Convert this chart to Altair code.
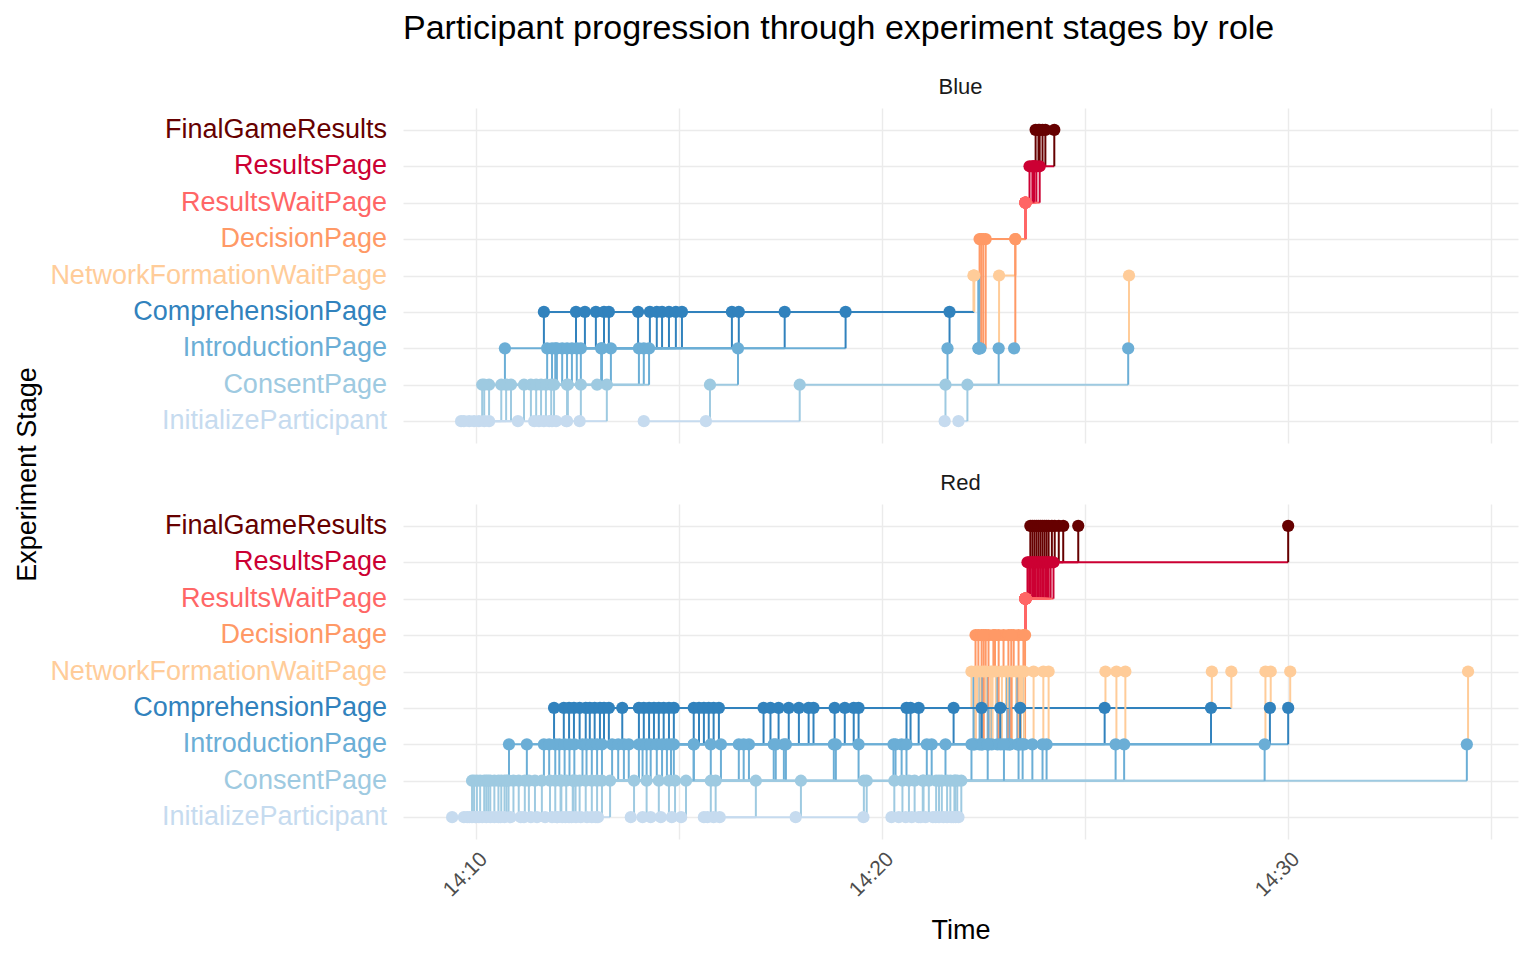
import altair as alt
import pandas as pd

# ---------------- data ----------------
stages = ["InitializeParticipant", "ConsentPage", "IntroductionPage", "ComprehensionPage",
          "NetworkFormationWaitPage", "DecisionPage", "ResultsWaitPage", "ResultsPage",
          "FinalGameResults"]
stage_colors = ["#C6DBEF", "#9ECAE1", "#6BAED6", "#3182BD",
                "#FFCC99", "#FF9966", "#FF6666", "#CC0033", "#660000"]

# time values are minutes after 14:00; stage sequence as digits (index into stages)
blue_paths = [
    ("0123425678", [9.70, 10.15, 10.71, 11.67, 22.25, 22.37, 22.40, 23.53, 23.63, 23.78]),
    ("0123425678", [9.83, 10.32, 11.75, 12.46, 22.26, 22.38, 22.44, 23.53, 23.70, 23.85]),
    ("0123425678", [21.54, 21.56, 21.61, 21.66, 22.27, 22.39, 22.49, 23.53, 23.75, 23.88]),
    ("01245678", [21.88, 22.10, 22.87, 22.88, 23.28, 23.53, 23.80, 24.02]),
    ("25678", [23.25, 23.28, 23.53, 23.88, 24.24]),
    ("25678", [22.42, 22.55, 23.53, 23.73, 23.95]),
    ("0124", [15.66, 17.97, 26.06, 26.08]),
    ("0123", [10.07, 10.62, 11.99, 12.68]),
    ("0123", [10.20, 10.74, 12.12, 12.95]),
    ("0123", [10.32, 10.86, 12.24, 13.15]),
    ("0123", [11.03, 11.18, 12.36, 13.27]),
    ("0123", [9.63, 11.35, 12.48, 13.99]),
    ("0123", [11.43, 11.48, 12.58, 14.28]),
    ("0123", [11.55, 11.60, 13.08, 14.45]),
    ("0123", [11.67, 11.72, 13.32, 14.58]),
    ("0123", [11.80, 11.85, 11.87, 14.75]),
    ("0123", [11.87, 11.92, 11.95, 14.92]),
    ("0123", [12.22, 12.26, 13.10, 15.07]),
    ("0123", [12.24, 12.58, 14.01, 16.30]),
    ("123", [12.98, 14.13, 17.60]),
    ("0123", [12.55, 13.22, 14.26, 19.10]),
    ("0123", [14.13, 15.76, 16.45, 16.47]),
    ("01", [11.97, 12.24]),
    ("01", [9.95, 10.20]),
]

red_paths = [
    ("0123425678", [9.41, 9.90, 10.81, 11.92, 22.20, 22.25, 22.30, 23.53, 23.58, 23.65]),
    ("0123245678", [9.70, 9.95, 11.25, 12.16, 22.28, 22.30, 22.37, 23.53, 23.62, 23.70]),
    ("01234", [9.78, 10.02, 11.67, 12.29, 28.60]),
    ("0123425678", [9.83, 10.10, 11.95, 12.41, 22.35, 22.40, 22.45, 23.53, 23.66, 23.75]),
    ("0123", [9.90, 10.20, 12.05, 12.70]),
    ("0123245678", [9.98, 10.25, 12.18, 12.80, 22.45, 22.50, 22.55, 23.53, 23.70, 23.80]),
    ("0123", [10.07, 10.35, 12.30, 12.92]),
    ("0123425678", [10.15, 10.45, 12.42, 13.05, 22.55, 22.60, 22.62, 23.53, 23.74, 23.85]),
    ("0123", [10.25, 10.55, 12.62, 13.15]),
    ("0123", [10.35, 10.62, 12.72, 13.27]),
    ("0123245678", [10.45, 10.70, 12.85, 13.60, 22.62, 22.68, 22.74, 23.53, 23.78, 23.90]),
    ("0123", [10.55, 10.80, 12.98, 14.01]),
    ("0123", [10.70, 10.92, 13.10, 14.13]),
    ("0123425678", [10.85, 11.05, 13.35, 14.26, 22.80, 22.84, 22.87, 23.53, 23.82, 23.95]),
    ("0123", [11.18, 11.30, 13.50, 14.38]),
    ("0123", [11.35, 11.45, 13.64, 14.50]),
    ("0123245678", [11.50, 11.62, 13.76, 14.62, 22.92, 22.95, 22.99, 23.53, 23.86, 24.00]),
    ("0123", [11.70, 11.82, 14.01, 14.75]),
    ("0123", [11.87, 11.95, 14.10, 14.87]),
    ("0123425678", [11.99, 12.08, 14.20, 15.36, 23.05, 23.08, 23.11, 23.53, 23.90, 24.05]),
    ("0123", [12.12, 12.22, 14.30, 15.49]),
    ("0123", [12.29, 12.38, 14.45, 15.61]),
    ("0123245678", [12.46, 12.55, 14.58, 15.73, 23.15, 23.20, 23.24, 23.53, 23.94, 24.10]),
    ("0123", [12.58, 12.70, 14.70, 15.85]),
    ("0123", [12.73, 12.85, 14.87, 15.98]),
    ("0123425678", [12.85, 12.98, 15.36, 17.08, 23.30, 23.33, 23.36, 23.53, 23.98, 24.18]),
    ("0123", [12.95, 13.10, 15.78, 17.25]),
    ("0123", [13.81, 13.89, 16.47, 17.45]),
    ("0123245678", [14.30, 14.50, 16.72, 17.70, 23.40, 23.42, 23.48, 23.53, 24.02, 24.25]),
    ("0123", [14.55, 14.75, 17.33, 17.95]),
    ("0123", [14.82, 14.90, 17.58, 18.19]),
    ("0123425678", [15.61, 15.78, 16.03, 18.31, 23.45, 23.50, 23.52, 23.53, 24.06, 24.35]),
    ("0123", [15.85, 16.89, 18.81, 19.08]),
    ("0123425678", [15.70, 15.90, 16.59, 18.83, 22.42, 22.47, 22.50, 23.53, 24.10, 24.46]),
    ("0123245678", [17.87, 18.00, 19.42, 20.60, 22.70, 22.72, 22.78, 23.53, 24.15, 24.83]),
    ("0123425678", [19.54, 19.62, 20.28, 20.90, 23.10, 23.14, 23.18, 23.53, 24.22, 30.00]),
    ("01234", [14.10, 14.20, 14.80, 30.00, 30.05]),
    ("0124", [12.20, 12.40, 34.40, 34.43]),
    ("012", [11.10, 11.20, 17.38]),
    ("0123", [12.00, 12.10, 17.63, 19.30]),
    ("0123", [12.35, 12.45, 18.86, 19.42]),
    ("012", [13.00, 13.30, 20.33]),
    ("01", [16.00, 19.55]),
    ("0123", [20.23, 20.30, 20.48, 20.70]),
    ("0123", [20.41, 20.50, 20.60, 21.76]),
    ("0124", [20.58, 20.66, 23.36, 23.38]),
    ("0124", [20.73, 20.80, 23.46, 23.50]),
    ("0124", [20.90, 21.00, 24.05, 24.10]),
    ("01234", [21.07, 21.15, 21.22, 25.48, 25.50]),
    ("0124", [21.81, 21.85, 25.75, 25.77]),
    ("0124", [21.88, 21.95, 25.96, 25.99]),
    ("01234", [21.25, 21.33, 21.56, 28.10, 28.12]),
    ("0124", [21.32, 21.40, 23.70, 23.73]),
    ("0124", [21.51, 21.60, 23.95, 23.97]),
    ("0124", [21.70, 21.78, 29.42, 29.44]),
    ("01234", [20.95, 21.02, 21.10, 29.55, 29.57]),
    ("0123", [21.40, 21.47, 22.20, 22.45]),
    ("0123", [21.60, 21.68, 22.60, 22.91]),
    ("0123", [21.75, 21.80, 23.00, 23.40]),
    ("01", [10.60, 10.75]),
    ("0123", [10.00, 10.30, 11.80, 12.55]),
    ("012", [15.05, 15.17, 15.36]),
]

x_ticks = [10, 15, 20, 25, 30, 35]
title_text = "Participant progression through experiment stages by role"


# ---------------- build tables ----------------
def build(paths):
    pts, segs = [], []
    for pid, (seq, times) in enumerate(paths):
        idx = [int(c) for c in seq]
        prev = None
        for s, t in zip(idx, times):
            pts.append({"pid": pid, "stage": stages[s], "y": s, "t": t})
            if prev is not None:
                ps, pt = prev
                # horizontal at previous stage, coloured by previous stage
                segs.append({"stage": stages[ps], "x": pt, "x2": t, "y": ps, "y2": ps})
                # vertical at new time, coloured by new stage
                segs.append({"stage": stages[s], "x": t, "x2": t, "y": ps, "y2": s})
            prev = (s, t)
    return pd.DataFrame(pts), pd.DataFrame(segs)


color = alt.Color("stage:N", scale=alt.Scale(domain=stages, range=stage_colors), legend=None)
xscale = alt.Scale(domain=[8.2, 35.66], nice=False, zero=False)
yscale = alt.Scale(domain=[-0.6, 8.6], nice=False, zero=False)
label_df = pd.DataFrame({"stage": stages, "y": list(range(len(stages)))})


def panel(role, paths, bottom, top):
    pts, segs = build(paths)
    if bottom:
        xaxis = alt.Axis(values=x_ticks, grid=True, gridColor="#EBEBEB", gridWidth=1.4,
                         domain=False, ticks=False,
                         labelExpr="datum.value % 10 == 0 ? '14:' + datum.value : ''",
                         labelAngle=315, labelAlign="right", labelBaseline="top",
                         labelFontSize=21, labelColor="#4D4D4D", labelPadding=9,
                         title="Time", titleFontSize=27, titleFontWeight="normal",
                         titleColor="black", titlePadding=17)
    else:
        xaxis = alt.Axis(values=x_ticks, grid=True, gridColor="#EBEBEB", gridWidth=1.4,
                         domain=False, ticks=False, labels=False, title=None)
    if top:
        yaxis = alt.Axis(values=list(range(9)), grid=True, gridColor="#EBEBEB", gridWidth=1.4,
                         domain=False, ticks=False, labels=False,
                         title="Experiment Stage", titleFontSize=27, titleFontWeight="normal",
                         titleColor="black", titleAngle=270, titleX=-362, titleY=366)
    else:
        yaxis = alt.Axis(values=list(range(9)), grid=True, gridColor="#EBEBEB", gridWidth=1.4,
                         domain=False, ticks=False, labels=False, title=None)

    rules = alt.Chart(segs).mark_rule(strokeWidth=2).encode(
        x=alt.X("x:Q", scale=xscale, axis=xaxis),
        x2="x2:Q",
        y=alt.Y("y:Q", scale=yscale, axis=yaxis),
        y2="y2:Q",
        color=color,
    )
    points = alt.Chart(pts).mark_circle(size=150, opacity=1).encode(
        x=alt.X("t:Q", scale=xscale),
        y=alt.Y("y:Q", scale=yscale),
        color=color,
    )
    labels = alt.Chart(label_df).mark_text(align="right", baseline="middle", fontSize=27).encode(
        x=alt.value(-16),
        y=alt.Y("y:Q", scale=yscale),
        text="stage:N",
        color=color,
    )
    return alt.layer(rules, points, labels).properties(
        width=1115, height=335,
        title=alt.TitleParams(role, fontSize=22, fontWeight="normal", anchor="middle",
                              color="#1A1A1A", offset=9),
    )


blue = panel("Blue", blue_paths, bottom=False, top=True)
red = panel("Red", red_paths, bottom=True, top=False)

chart = alt.vconcat(blue, red, spacing=61, bounds="flush").properties(
    title=alt.TitleParams(title_text, fontSize=34, fontWeight="normal", anchor="start",
                          frame="group", color="black", offset=30),
    padding={"left": 5, "top": 4, "right": 5, "bottom": 5},
).configure(font="Liberation Sans").configure_view(stroke=None)

chart.save("out.html", embed_options={"renderer": "svg", "actions": False})
